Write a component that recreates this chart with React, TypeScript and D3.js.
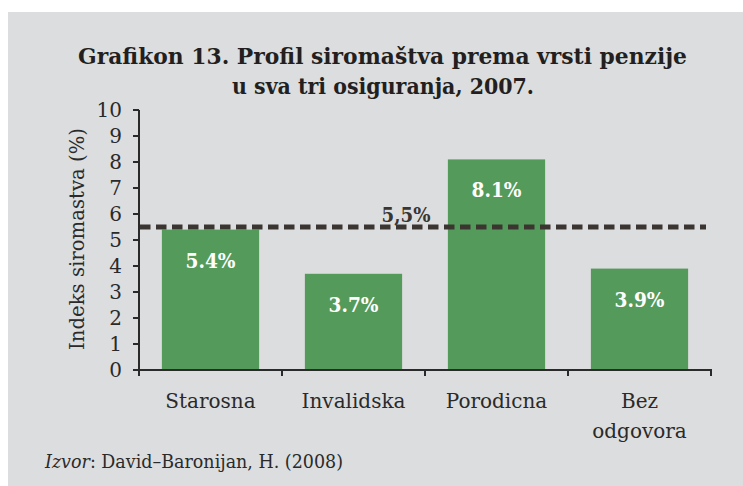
import React from "react";
import * as d3 from "d3";

const categories = ["Starosna", "Invalidska", "Porodicna", "Bez odgovora"];
const categoryLines = [["Starosna"], ["Invalidska"], ["Porodicna"], ["Bez", "odgovora"]];
const values = [5.4, 3.7, 8.1, 3.9];
const valueLabels = ["5.4%", "3.7%", "8.1%", "3.9%"];
const yTicks = [0, 1, 2, 3, 4, 5, 6, 7, 8, 9, 10];
const referenceValue = 5.5;
const referenceLabel = "5,5%";
const titleLines = ["Grafikon 13. Profil siromaštva prema vrsti penzije", "u sva tri osiguranja, 2007."];
const yAxisTitle = "Indeks siromastva (%)";

const W = 743;
const H = 486;
const FONT = "'DejaVu Serif', serif";
const TXT = "#2a2a2a";

export default function App() {
  const y = d3.scaleLinear().domain([0, 10]).range([370, 110]);
  const x = d3
    .scaleBand<string>()
    .domain(categories)
    .range([139, 711])
    .paddingInner(0.32)
    .paddingOuter(0.16);
  const step = x.step();
  const bw = x.bandwidth();
  const boundaries = categories.map((c) => (x(c) as number) - (step - bw) / 2);
  boundaries.push(711);

  return (
    <svg
      width={W}
      height={H}
      style={{ position: "absolute", left: 0, top: 0 }}
      fontFamily={FONT}
    >
      <rect x={0} y={0} width={W} height={H} fill="#ffffff" />
      <rect x={8} y={12} width={W - 8} height={H - 12} fill="#DCDDDE" />

      {/* title */}
      <text
        x={382.5}
        y={64}
        textAnchor="middle"
        fontWeight="bold"
        fontSize={23}
        fill="#231f20"
        textLength={609}
        lengthAdjust="spacingAndGlyphs"
      >
        {titleLines[0]}
      </text>
      <text
        x={383}
        y={94}
        textAnchor="middle"
        fontWeight="bold"
        fontSize={23}
        fill="#231f20"
        textLength={302}
        lengthAdjust="spacingAndGlyphs"
      >
        {titleLines[1]}
      </text>

      {/* bars */}
      {categories.map((c, i) => (
        <rect
          key={c}
          x={x(c)}
          y={y(values[i])}
          width={bw}
          height={y(0) - y(values[i])}
          fill="#549A5B"
        />
      ))}
      {categories.map((c, i) => (
        <text
          key={c + "l"}
          x={(x(c) as number) + bw / 2}
          y={y(values[i]) + 38}
          textAnchor="middle"
          fontWeight="bold"
          fontSize={20}
          fill="#ffffff"
          textLength={50}
          lengthAdjust="spacingAndGlyphs"
        >
          {valueLabels[i]}
        </text>
      ))}

      {/* reference line */}
      <line
        x1={140}
        x2={706}
        y1={y(referenceValue)}
        y2={y(referenceValue)}
        stroke="#3A3530"
        strokeWidth={5}
        strokeDasharray="10.5 5.5"
      />
      <text
        x={406}
        y={y(referenceValue) - 5}
        textAnchor="middle"
        fontWeight="bold"
        fontSize={20}
        fill="#3A3530"
        textLength={49}
        lengthAdjust="spacingAndGlyphs"
      >
        {referenceLabel}
      </text>

      {/* y axis */}
      <line x1={139} x2={139} y1={y(10)} y2={y(0) + 1} stroke={TXT} strokeWidth={2} />
      {yTicks.map((t) => (
        <g key={t}>
          <line x1={133} x2={139} y1={y(t)} y2={y(t)} stroke={TXT} strokeWidth={2} />
          <text x={122} y={y(t) + 7} textAnchor="end" fontSize={20} fill={TXT}>
            {t}
          </text>
        </g>
      ))}
      <text
        transform={`translate(84, 239) rotate(-90)`}
        textAnchor="middle"
        fontSize={20}
        fill={TXT}
        textLength={222}
        lengthAdjust="spacingAndGlyphs"
      >
        {yAxisTitle}
      </text>

      {/* x axis */}
      <line x1={138} x2={712} y1={y(0)} y2={y(0)} stroke={TXT} strokeWidth={2} />
      {boundaries.map((b, i) => (
        <line key={i} x1={b} x2={b} y1={y(0)} y2={y(0) + 6} stroke={TXT} strokeWidth={2} />
      ))}
      {categories.map((c, i) => (
        <text
          key={c + "x"}
          x={(x(c) as number) + bw / 2}
          y={408}
          textAnchor="middle"
          fontSize={20}
          fill={TXT}
        >
          {categoryLines[i].map((ln, j) => (
            <tspan key={j} x={(x(c) as number) + bw / 2} dy={j === 0 ? 0 : 30}>
              {ln}
            </tspan>
          ))}
        </text>
      ))}

      {/* source */}
      <text x={45} y={468} fontSize={18} fill={TXT} textLength={298} lengthAdjust="spacingAndGlyphs">
        <tspan fontStyle="italic">Izvor</tspan>
        <tspan>: David–Baronijan, H. (2008)</tspan>
      </text>
    </svg>
  );
}
